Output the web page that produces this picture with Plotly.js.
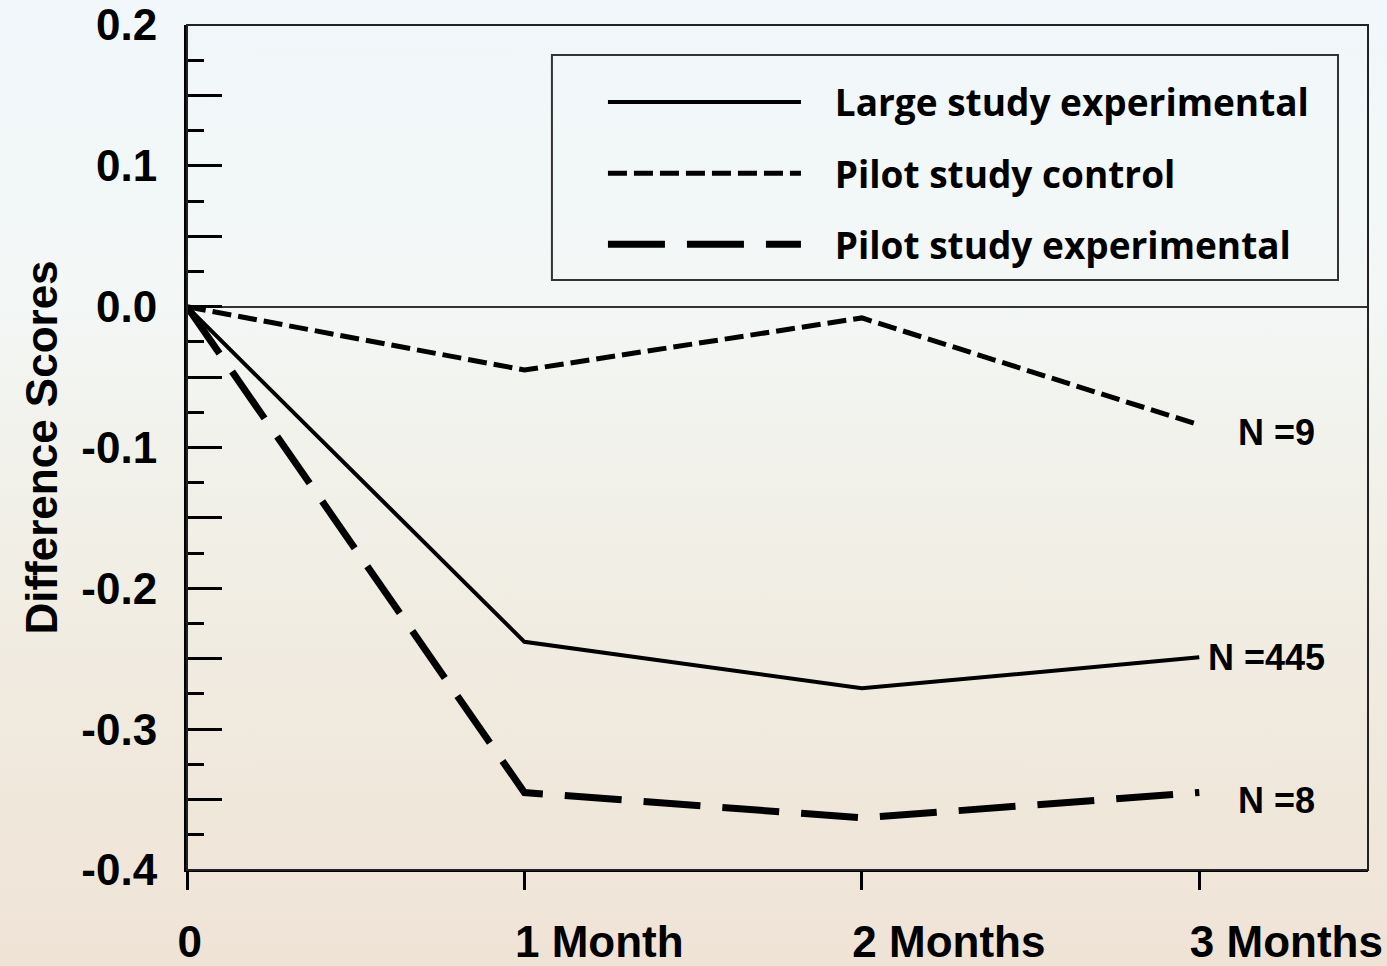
<!DOCTYPE html>
<html>
<head>
<meta charset="utf-8">
<script src="https://cdn.plot.ly/plotly-3.0.1.min.js"></script>
<style>
  html, body { margin: 0; padding: 0; }
  body {
    width: 1387px; height: 966px; overflow: hidden;
    background: linear-gradient(to bottom, #f1f7fa 0%, #f3f7f6 30%, #f1efe6 55%, #f0e8dc 80%, #efe3d6 100%);
  }
  #chart { width: 1387px; height: 966px; }
</style>
</head>
<body>
<div id="chart"></div>
<script>
// ---- data ----
const timePoints = [0, 1, 2, 3];
const timeLabels = ['0', '1 Month', '2 Months', '3 Months'];
const seriesNames = ['Large study experimental', 'Pilot study control', 'Pilot study experimental'];
const largeExperimental = [0, -0.238, -0.271, -0.249];
const pilotControl = [0, -0.045, -0.008, -0.084];
const pilotExperimental = [0, -0.345, -0.363, -0.345];
const sampleLabels = ['N =445', 'N =9', 'N =8'];
const yTickValues = [-0.4, -0.35, -0.3, -0.25, -0.2, -0.15, -0.1, -0.05, 0, 0.05, 0.1, 0.15, 0.2];
const yTickLabels = ['-0.4', '', '-0.3', '', '-0.2', '', '-0.1', '', '0.0', '', '0.1', '', '0.2'];

// ---- styling ----
const seriesValues = [largeExperimental, pilotControl, pilotExperimental];
const lineStyles = [
  { color: '#000', width: 4, dash: 'solid' },
  { color: '#000', width: 5, dash: '19px,7px' },
  { color: '#000', width: 7, dash: '57px,22px' }
];
const labelShift = [[7, 0], [37, -8], [37, -8]];
const legendPad = '\u00a0\u00a0\u00a0';

const traces = seriesValues.map((vals, i) => ({
  type: 'scatter', mode: 'lines',
  x: timePoints, y: vals,
  name: legendPad + seriesNames[i],
  legendgroup: 'g' + i,
  line: lineStyles[i],
  hoverinfo: 'x+y'
}));

const axisFont = { family: '"Liberation Sans", Arial, sans-serif', size: 44, color: '#000', weight: 'bold' };

const annotations = seriesValues.map((vals, i) => ({
  x: timePoints[timePoints.length - 1], y: vals[vals.length - 1],
  xref: 'x', yref: 'y', text: sampleLabels[i], showarrow: false,
  xanchor: 'left', yanchor: 'middle',
  xshift: labelShift[i][0], yshift: labelShift[i][1],
  font: { family: '"Liberation Sans", Arial, sans-serif', size: 36, color: '#000', weight: 'bold' }
}));

const layout = {
  width: 1387, height: 966,
  margin: { l: 187, r: 19, t: 25, b: 96, pad: 0 },
  paper_bgcolor: 'rgba(0,0,0,0)',
  plot_bgcolor: 'rgba(0,0,0,0)',
  showlegend: true,
  legend: {
    x: 0.3522, y: 0.945, xanchor: 'left', yanchor: 'top',
    bgcolor: 'rgba(0,0,0,0)', borderwidth: 0,
    font: { family: '"Open Sans", "Noto Sans", sans-serif', size: 37, color: '#000', weight: 'bold' },
    itemwidth: 193, tracegroupgap: 20, traceorder: 'grouped'
  },
  xaxis: {
    range: [0, 3.5], showgrid: false, zeroline: false,
    showline: true, linecolor: '#000', linewidth: 2,
    tickmode: 'array', tickvals: timePoints, ticktext: timeLabels,
    ticks: 'outside', ticklen: 18, tickwidth: 3, tickcolor: '#000',
    ticklabelposition: 'outside right', ticklabelshift: -12, ticklabelstandoff: 32,
    tickfont: axisFont, fixedrange: true
  },
  yaxis: {
    range: [-0.4, 0.2], showgrid: false,
    zeroline: true, zerolinecolor: '#333', zerolinewidth: 2,
    showline: true, linecolor: '#000', linewidth: 3,
    tickmode: 'array', tickvals: yTickValues, ticktext: yTickLabels,
    ticks: 'inside', ticklen: 35, tickwidth: 3, tickcolor: '#000',
    minor: { ticks: 'inside', ticklen: 17, tickwidth: 3, tickcolor: '#000', dtick: 0.025, tick0: 0 },
    ticklabelstandoff: 18,
    tickfont: axisFont,
    title: { text: 'Difference Scores', standoff: 10,
      font: { family: '"Liberation Sans", Arial, sans-serif', size: 44, color: '#000', weight: 'bold' } },
    fixedrange: true
  },
  shapes: [
    { type: 'rect', xref: 'paper', yref: 'paper', x0: 0, x1: 1, y0: 0, y1: 1,
      line: { color: '#222', width: 2 }, fillcolor: 'rgba(0,0,0,0)', layer: 'above' },
    { type: 'rect', xref: 'paper', yref: 'paper', x0: 0.309, x1: 0.9746, y0: 0.6982, y1: 0.9645,
      line: { color: '#333', width: 2 }, fillcolor: 'rgba(0,0,0,0)', layer: 'above' }
  ],
  annotations: annotations
};

Plotly.newPlot('chart', traces, layout, { displayModeBar: false, staticPlot: true });
</script>
</body>
</html>
